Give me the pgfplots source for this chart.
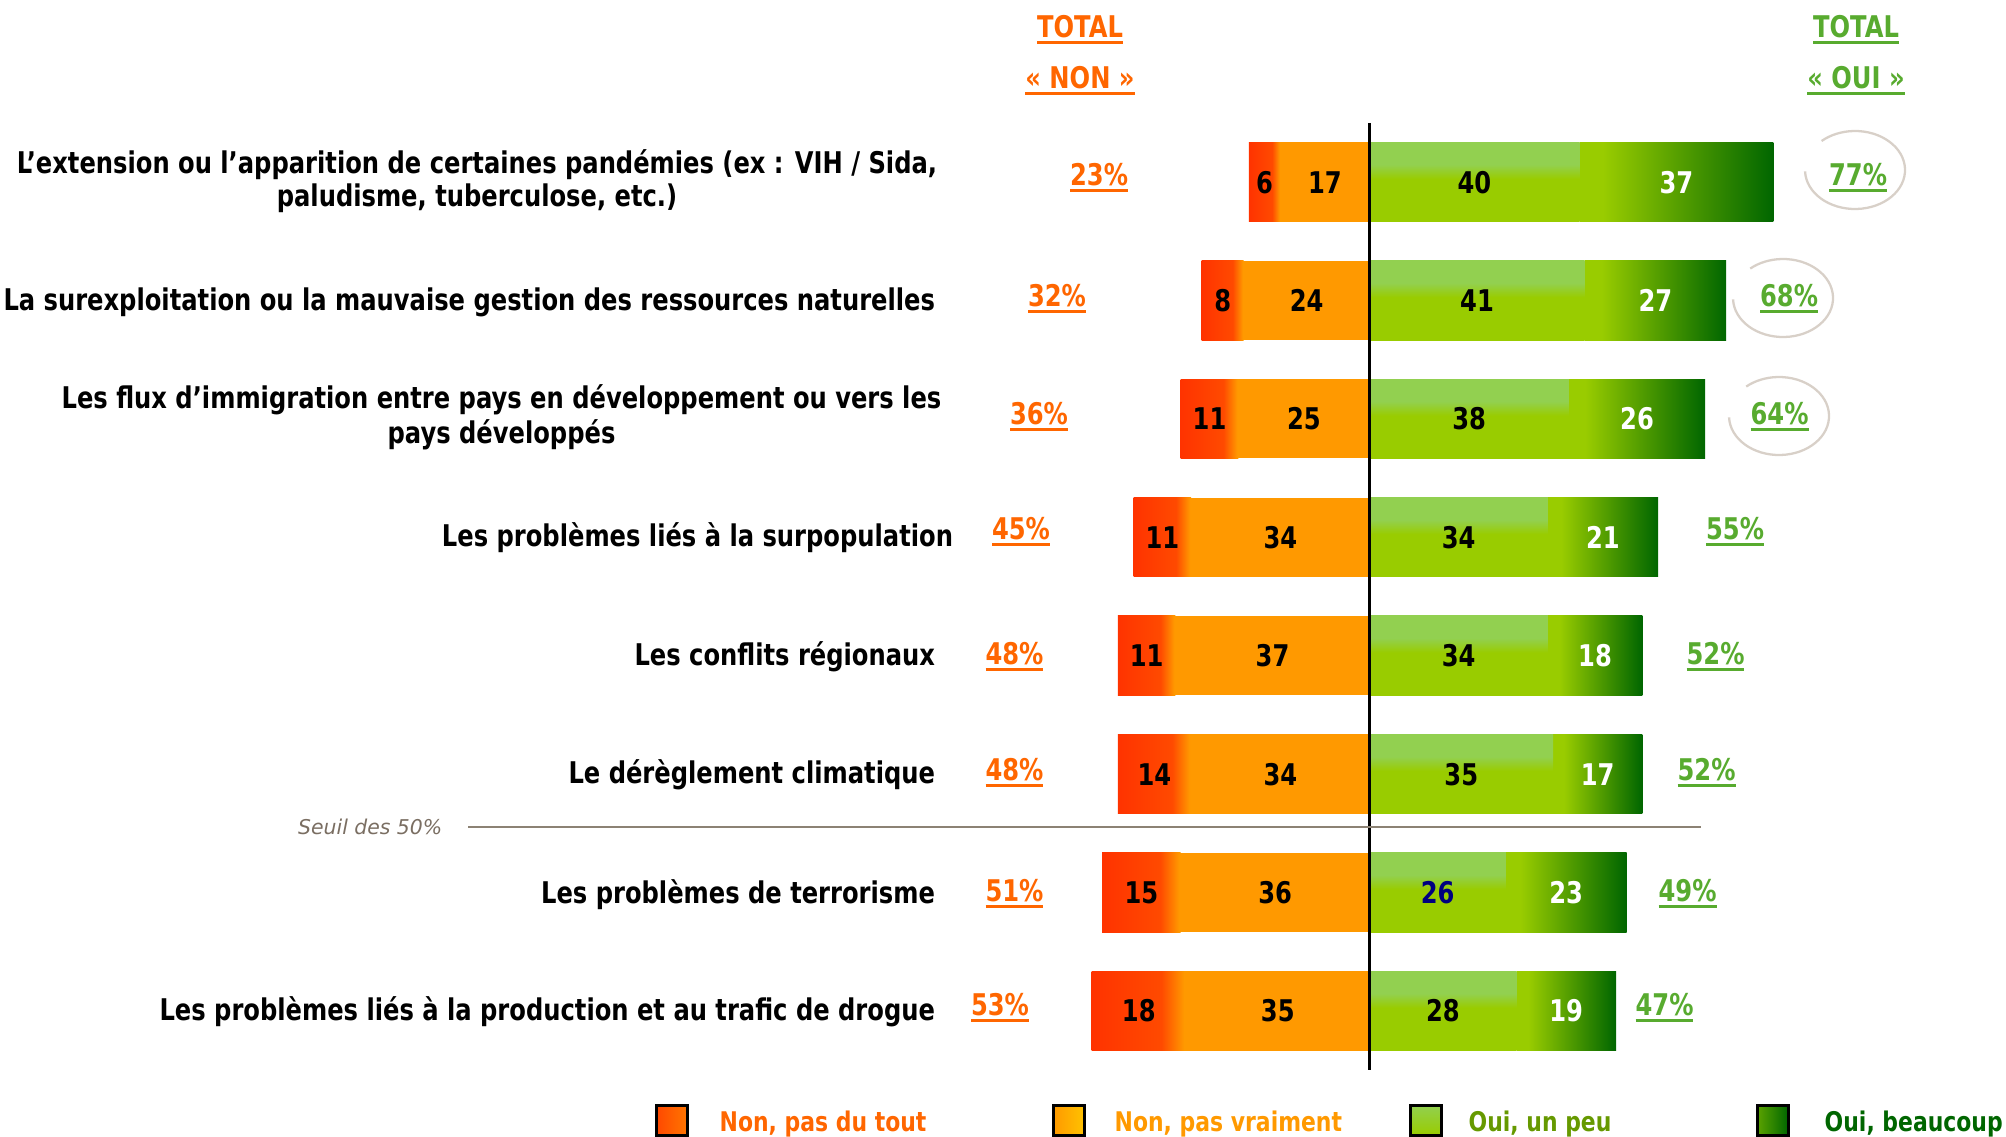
\documentclass[border=0pt]{standalone}
\usepackage{fontspec}
\setmainfont{DejaVu Sans}[FakeStretch=0.81]
\newfontfamily\seuilfont{DejaVu Sans}
\usepackage{pgfplots}
\pgfplotsset{compat=1.18}
\definecolor{redA}{HTML}{FF3300}
\definecolor{redB}{HTML}{FF4A00}
\definecolor{orA}{HTML}{FF9900}
\definecolor{lgA}{HTML}{92D050}
\definecolor{lgB}{HTML}{99CC00}
\definecolor{dgB}{HTML}{006600}
\definecolor{nonC}{HTML}{FF6600}
\definecolor{ouiC}{HTML}{58AB2F}
\definecolor{circC}{HTML}{D8D0C8}
\definecolor{seuilL}{HTML}{8C8274}
\definecolor{seuilT}{HTML}{7A6E62}
\definecolor{legO}{HTML}{FF9900}
\definecolor{legG}{HTML}{669900}
\definecolor{numBlue}{HTML}{000080}
\pgfdeclarehorizontalshading{redseg}{100bp}{color(0bp)=(redA); color(25bp)=(redA); color(62bp)=(redB); color(74bp)=(orA); color(100bp)=(orA)}
\pgfdeclarehorizontalshading{dgseg}{100bp}{color(0bp)=(lgB); color(25bp)=(lgB); color(31bp)=(lgB); color(75bp)=(dgB); color(100bp)=(dgB)}
\pgfdeclareverticalshading{lgseg}{100bp}{color(0bp)=(lgB); color(25bp)=(lgB); color(52bp)=(lgB); color(61bp)=(lgA); color(75bp)=(lgA); color(100bp)=(lgA)}
\newcommand{\ul}[1]{\vtop{\hbox{#1}\kern0.9pt\hrule height 0.95pt}}
\pgfplotsset{myax/.style={scale only axis, width=20.06cm, height=11.36cm,
  xmin=-261.1, xmax=121.35, ymin=-0.537, ymax=9.057, y dir=reverse,
  hide axis, clip=false, xbar stacked, bar width=0.67, at={(0,0)}, anchor=south west}}
% one axis per row: #1 row, #2 Non pas du tout, #3 Non pas vraiment,
% #4 Oui un peu, #5 Oui beaucoup
\newcommand{\rowbars}[5]{%
\begin{axis}[myax]
\addplot[draw=none, fill=orA] coordinates {(-#3,#1)};
\addplot[draw=none, shade, shading=redseg] coordinates {(-#2,#1)};
\addplot[draw=none, shade, shading=lgseg] coordinates {(#4,#1)};
\addplot[draw=none, shade, shading=dgseg] coordinates {(#5,#1)};
\end{axis}}
\begin{document}
\begin{tikzpicture}[
  lab/.style={font=\fontsize{8.5}{10}\selectfont\bfseries, inner sep=0pt, outer sep=0pt},
  num/.style={lab, anchor=base},
  leg/.style={font=\fontsize{7.7}{9}\selectfont\bfseries, inner sep=0pt, anchor=base west}]
\useasboundingbox (0,0) rectangle (20.06cm,11.36cm);
\rowbars{1}{6}{17}{40}{37}
\rowbars{2}{8}{24}{41}{27}
\rowbars{3}{11}{25}{38}{26}
\rowbars{4}{11}{34}{34}{21}
\rowbars{5}{11}{37}{34}{18}
\rowbars{6}{14}{34}{35}{17}
\rowbars{7}{15}{36}{26}{23}
\rowbars{8}{18}{35}{28}{19}
\begin{axis}[myax]
\draw[black, line width=0.3mm] (axis cs:0,0.5) -- (axis cs:0,8.5);
% segment values
\node[num] at (axis cs:-20,1.093) {6};
\node[num] at (axis cs:-8.5,1.093) {17};
\node[num] at (axis cs:20,1.093) {40};
\node[num,white] at (axis cs:58.5,1.093) {37};
\node[num] at (axis cs:-28,2.093) {8};
\node[num] at (axis cs:-12,2.093) {24};
\node[num] at (axis cs:20.5,2.093) {41};
\node[num,white] at (axis cs:54.5,2.093) {27};
\node[num] at (axis cs:-30.5,3.093) {11};
\node[num] at (axis cs:-12.5,3.093) {25};
\node[num] at (axis cs:19,3.093) {38};
\node[num,white] at (axis cs:51,3.093) {26};
\node[num] at (axis cs:-39.5,4.093) {11};
\node[num] at (axis cs:-17,4.093) {34};
\node[num] at (axis cs:17,4.093) {34};
\node[num,white] at (axis cs:44.5,4.093) {21};
\node[num] at (axis cs:-42.5,5.093) {11};
\node[num] at (axis cs:-18.5,5.093) {37};
\node[num] at (axis cs:17,5.093) {34};
\node[num,white] at (axis cs:43,5.093) {18};
\node[num] at (axis cs:-41,6.093) {14};
\node[num] at (axis cs:-17,6.093) {34};
\node[num] at (axis cs:17.5,6.093) {35};
\node[num,white] at (axis cs:43.5,6.093) {17};
\node[num] at (axis cs:-43.5,7.093) {15};
\node[num] at (axis cs:-18,7.093) {36};
\node[num,numBlue] at (axis cs:13,7.093) {26};
\node[num,white] at (axis cs:37.5,7.093) {23};
\node[num] at (axis cs:-44,8.093) {18};
\node[num] at (axis cs:-17.5,8.093) {35};
\node[num] at (axis cs:14,8.093) {28};
\node[num,white] at (axis cs:37.5,8.093) {19};
\end{axis}
% texts and decorations, in pixel units of the 2006x1136 reference
\begin{scope}[x=0.1mm, y=-0.1mm, shift={(0,11.36cm)}]
% headers
\node[lab, anchor=base, nonC] at (1080,37) {\ul{TOTAL}};
\node[lab, anchor=base, nonC] at (1080,88) {\ul{«~NON~»}};
\node[lab, anchor=base, ouiC] at (1856,37) {\ul{TOTAL}};
\node[lab, anchor=base, ouiC] at (1856,88) {\ul{«~OUI~»}};
% category labels
\node[lab, anchor=base] at (477,173) {L’extension ou l’apparition de certaines pandémies (ex : VIH / Sida,};
\node[lab, anchor=base] at (477,206) {paludisme, tuberculose, etc.)};
\node[lab, anchor=base east] at (935,310) {La surexploitation ou la mauvaise gestion des ressources naturelles};
\node[lab, anchor=base] at (501.5,408) {Les flux d’immigration entre pays en développement ou vers les};
\node[lab, anchor=base] at (501.5,443) {pays développés};
\node[lab, anchor=base east] at (953,546) {Les problèmes liés à la surpopulation};
\node[lab, anchor=base east] at (935,665) {Les conflits régionaux};
\node[lab, anchor=base east] at (935,783) {Le dérèglement climatique};
\node[lab, anchor=base east] at (935,903) {Les problèmes de terrorisme};
\node[lab, anchor=base east] at (935,1020) {Les problèmes liés à la production et au trafic de drogue};
% total NON
\node[lab, anchor=base, nonC] at (1099,185) {\ul{23\%}};
\node[lab, anchor=base, nonC] at (1057,306) {\ul{32\%}};
\node[lab, anchor=base, nonC] at (1039,424) {\ul{36\%}};
\node[lab, anchor=base, nonC] at (1021,539) {\ul{45\%}};
\node[lab, anchor=base, nonC] at (1014.5,664.5) {\ul{48\%}};
\node[lab, anchor=base, nonC] at (1014.5,780) {\ul{48\%}};
\node[lab, anchor=base, nonC] at (1014.5,901) {\ul{51\%}};
\node[lab, anchor=base, nonC] at (1000,1015) {\ul{53\%}};
% total OUI
\node[lab, anchor=base, ouiC] at (1858,185) {\ul{77\%}};
\node[lab, anchor=base, ouiC] at (1789,306) {\ul{68\%}};
\node[lab, anchor=base, ouiC] at (1779.5,424) {\ul{64\%}};
\node[lab, anchor=base, ouiC] at (1735,539) {\ul{55\%}};
\node[lab, anchor=base, ouiC] at (1715.5,664.5) {\ul{52\%}};
\node[lab, anchor=base, ouiC] at (1706.5,780) {\ul{52\%}};
\node[lab, anchor=base, ouiC] at (1687.5,901) {\ul{49\%}};
\node[lab, anchor=base, ouiC] at (1664.5,1015) {\ul{47\%}};
% circles
\draw[circC, line width=0.65pt] (1855,170) ++(182:5mm and 3.9mm) arc[start angle=182, end angle=492, x radius=5mm, y radius=3.9mm];
\draw[circC, line width=0.65pt] (1783,298) ++(182:5mm and 3.9mm) arc[start angle=182, end angle=491, x radius=5mm, y radius=3.9mm];
\draw[circC, line width=0.65pt] (1779,416) ++(182:5mm and 3.9mm) arc[start angle=182, end angle=491, x radius=5mm, y radius=3.9mm];
% threshold
\draw[seuilL, line width=0.2mm] (468,827) -- (1701,827);
\node[inner sep=0pt, anchor=base east, seuilT, font=\seuilfont\itshape\fontsize{5.8}{7}\selectfont] at (443,834) {Seuil des 50\%};
% legend
\draw[black, line width=0.3mm, left color=redA!80!orA, right color=nonC!70!orA] (656,1105) rectangle (687,1135);
\node[leg, nonC] at (719,1131.5) {Non, pas du tout};
\draw[black, line width=0.3mm, left color=orA, right color=orA!60!yellow] (1053,1105) rectangle (1084,1135);
\node[leg, legO] at (1114,1131.5) {Non, pas vraiment};
\draw[black, line width=0.3mm, top color=lgA, bottom color=lgB] (1410,1105) rectangle (1441,1135);
\node[leg, legG] at (1468,1131.5) {Oui, un peu};
\draw[black, line width=0.3mm, left color=lgB!60!dgB, right color=dgB] (1757,1105) rectangle (1788,1135);
\node[leg, dgB] at (1824,1131.5) {Oui, beaucoup};
\end{scope}
\end{tikzpicture}
\end{document}
